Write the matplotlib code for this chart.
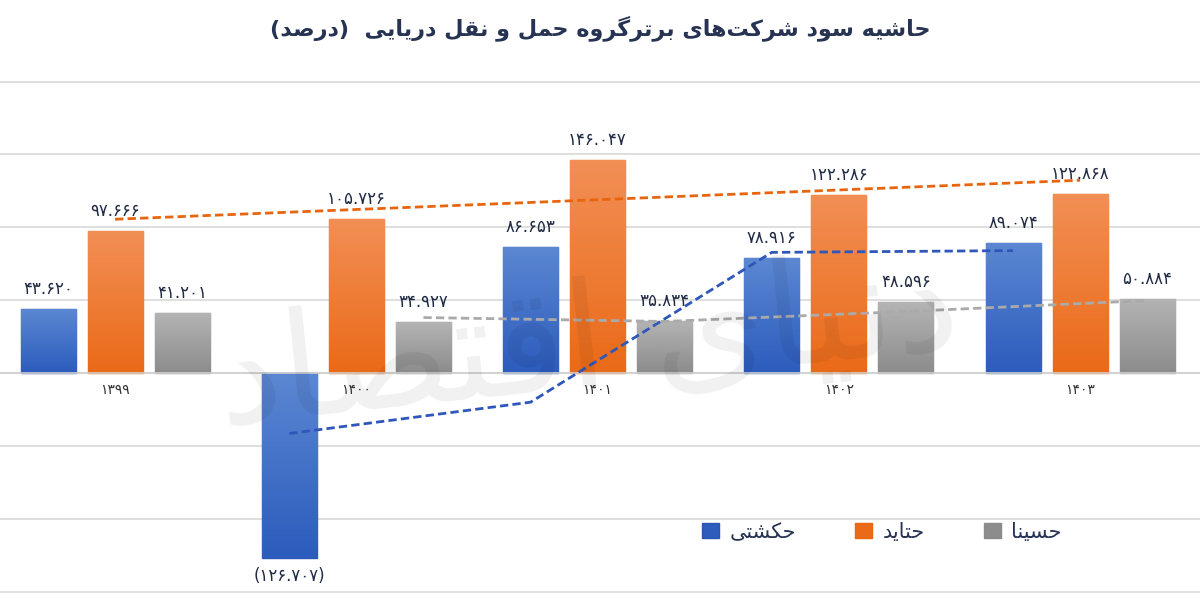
import numpy as np
import pandas as pd
import matplotlib
matplotlib.use("Agg")
import matplotlib.pyplot as plt
from matplotlib.patches import Patch
from matplotlib.colors import LinearSegmentedColormap

# داده‌ها
years = ["۱۳۹۹", "۱۴۰۰", "۱۴۰۱", "۱۴۰۲", "۱۴۰۳"]
series_names = ["حکشتی", "حتاید", "حسینا"]
hkeshti = [43.620, -126.707, 86.653, 78.916, 89.074]
htayd = [97.666, 105.726, 146.047, 122.286, 122.868]
hsina = [41.201, 34.927, 35.834, 48.596, 50.884]

title_text = "حاشیه سود شرکت\u200cهای برترگروه حمل و نقل دریایی  (درصد)"
watermark_text = "دنیای اقتصاد"

# شکل حروف فارسی (matplotlib خودش حروف را به هم نمی‌چسباند)
FORMS = {
    'ا': ('\uFE8D', '\uFE8E'),
    'آ': ('\uFE81', '\uFE82'),
    'ب': ('\uFE8F', '\uFE90', '\uFE91', '\uFE92'),
    'پ': ('\uFB56', '\uFB57', '\uFB58', '\uFB59'),
    'ت': ('\uFE95', '\uFE96', '\uFE97', '\uFE98'),
    'ج': ('\uFE9D', '\uFE9E', '\uFE9F', '\uFEA0'),
    'چ': ('\uFB7A', '\uFB7B', '\uFB7C', '\uFB7D'),
    'ح': ('\uFEA1', '\uFEA2', '\uFEA3', '\uFEA4'),
    'خ': ('\uFEA5', '\uFEA6', '\uFEA7', '\uFEA8'),
    'د': ('\uFEA9', '\uFEAA'),
    'ذ': ('\uFEAB', '\uFEAC'),
    'ر': ('\uFEAD', '\uFEAE'),
    'ز': ('\uFEAF', '\uFEB0'),
    'ژ': ('\uFB8A', '\uFB8B'),
    'س': ('\uFEB1', '\uFEB2', '\uFEB3', '\uFEB4'),
    'ش': ('\uFEB5', '\uFEB6', '\uFEB7', '\uFEB8'),
    'ص': ('\uFEB9', '\uFEBA', '\uFEBB', '\uFEBC'),
    'ض': ('\uFEBD', '\uFEBE', '\uFEBF', '\uFEC0'),
    'ع': ('\uFEC9', '\uFECA', '\uFECB', '\uFECC'),
    'ف': ('\uFED1', '\uFED2', '\uFED3', '\uFED4'),
    'ق': ('\uFED5', '\uFED6', '\uFED7', '\uFED8'),
    'ک': ('\uFB8E', '\uFB8F', '\uFB90', '\uFB91'),
    'گ': ('\uFB92', '\uFB93', '\uFB94', '\uFB95'),
    'ل': ('\uFEDD', '\uFEDE', '\uFEDF', '\uFEE0'),
    'م': ('\uFEE1', '\uFEE2', '\uFEE3', '\uFEE4'),
    'ن': ('\uFEE5', '\uFEE6', '\uFEE7', '\uFEE8'),
    'و': ('\uFEED', '\uFEEE'),
    'ه': ('\uFEE9', '\uFEEA', '\uFEEB', '\uFEEC'),
    'ی': ('\uFBFC', '\uFBFD', '\uFBFE', '\uFBFF'),
}


def shape(text):
    out = []
    n = len(text)
    for i, c in enumerate(text):
        if c not in FORMS:
            out.append(c)
            continue
        forms = FORMS[c]
        prev = text[i - 1] if i > 0 else ''
        nxt = text[i + 1] if i < n - 1 else ''
        join_prev = prev in FORMS and len(FORMS[prev]) == 4
        join_next = len(forms) == 4 and nxt in FORMS
        if join_prev and join_next:
            out.append(forms[3])
        elif join_prev:
            out.append(forms[1])
        elif join_next:
            out.append(forms[2])
        else:
            out.append(forms[0])
    s = ''.join(out).replace('\u200c', '')[::-1]
    return s.translate(str.maketrans('()', ')('))


def fa_num(v):
    s = f"{abs(v):.3f}".translate(str.maketrans('0123456789', '۰۱۲۳۴۵۶۷۸۹'))
    return f"({s})" if v < 0 else s


plt.rcParams['font.family'] = ['DejaVu Sans']

fig = plt.figure(figsize=(12, 6.07), dpi=100)
ax = fig.add_axes([0, 0, 1, 1])
ax.set_xlim(-0.477, 4.497)
ax.set_ylim(-160.6, 256.0)

x = np.arange(len(years))
offset = 0.278
width = 0.228

styles = [
    ("#5b87d2", "#2c5cbd", "#2a55b0", "#2f57ba"),
    ("#f28f55", "#ea6a18", "#e8660f", "#e8650f"),
    ("#b4b4b4", "#8c8c8c", "#8a8a8a", "#aaaaaa"),
]
all_values = [hkeshti, htayd, hsina]

for k, (vals, (top_c, bot_c, edge_c, line_c)) in enumerate(zip(all_values, styles)):
    xs = x + (k - 1) * offset
    bars = ax.bar(xs, vals, width, color=bot_c, edgecolor=edge_c, linewidth=1, zorder=2)
    cmap = LinearSegmentedColormap.from_list(f"g{k}", [bot_c, top_c])
    grad = np.linspace(1, 0, 100).reshape(-1, 1)
    for b, v in zip(bars, vals):
        x0, w = b.get_x(), b.get_width()
        y0, y1 = min(0, v), max(0, v)
        img = ax.imshow(grad, extent=[x0, x0 + w, y0, y1], aspect='auto', cmap=cmap,
                        origin='upper', zorder=2.5)
        img.set_clip_path(b)
        label_y = 8 if v >= 0 else -7
        ax.annotate(fa_num(v), (b.get_x() + w / 2, v), xytext=(0, label_y),
                    textcoords='offset points', ha='center',
                    va='bottom' if v >= 0 else 'top', fontsize=12, color="#1f2a44", zorder=5)

    # خطوط روند
    if k == 1:
        coef = np.polyfit(x, vals, 1)
        ax.plot([xs[0], xs[-1]], np.polyval(coef, [x[0], x[-1]]), color=line_c, lw=2,
                ls=(0, (3, 1.5)), zorder=4)
    else:
        ma = pd.Series(vals).rolling(2).mean()
        ax.plot(xs[1:], ma[1:], color=line_c, lw=2, ls=(0, (3, 1.5)), zorder=4)

# شبکه
for gy in range(-150, 201, 50):
    ax.axhline(gy, color="#d9d9d9", lw=1.2, zorder=1)
ax.axhline(0, color="#d0d0d0", lw=1.2, zorder=3)

for xi, yr in zip(x, years):
    ax.text(xi, -11.5, yr, ha='center', va='center', fontsize=10, color="#333333", zorder=5)

ax.axis('off')

# واترمارک
ax.text(0.49, 0.43, shape(watermark_text), transform=ax.transAxes, fontsize=105,
        color="black", alpha=0.06, rotation=6, ha='center', va='center', zorder=4.5)

fig.text(0.5, 0.953, shape(title_text), ha='center', va='center', fontsize=16,
         fontweight='bold', color="#263352")

handles = [Patch(facecolor=s[1], edgecolor=s[2]) for s in styles]
fig.legend(handles, [shape(n) for n in series_names], loc='center',
           bbox_to_anchor=(0.735, 0.124), ncol=3, frameon=False, fontsize=15,
           handlelength=0.8, handleheight=0.8, handletextpad=0.5, columnspacing=2.85,
           labelcolor="#263352")

fig.savefig("out.png", dpi=100)
